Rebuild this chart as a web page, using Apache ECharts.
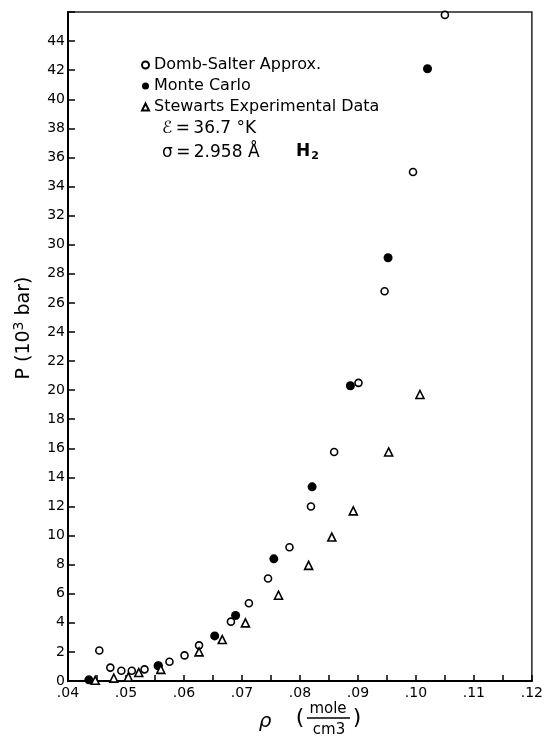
<!DOCTYPE html>
<html>
<head>
<meta charset="utf-8">
<title>H2 P vs rho</title>
<script src="https://cdn.jsdelivr.net/npm/echarts@6/dist/echarts.min.js"></script>
<style>
    html, body { margin: 0; padding: 0; background: #fff; }
    #main { width: 546px; height: 737px; }
</style>
</head>
<body>
<div id="main"></div>
<script>
// series names (legend)
var seriesNames = ['Domb-Salter Approx.', 'Monte Carlo', 'Stewarts Experimental Data'];

// [rho (mole/cm3), P (10^3 bar)]
var dombSalter = [
    [0.0454, 2.1], [0.0473, 0.92], [0.0492, 0.7], [0.0510, 0.7], [0.0532, 0.8],
    [0.0555, 1.05], [0.0575, 1.32], [0.0601, 1.76], [0.0626, 2.45], [0.0681, 4.08],
    [0.0712, 5.35], [0.0745, 7.05], [0.0782, 9.2], [0.0819, 12.0], [0.0859, 15.75],
    [0.0901, 20.5], [0.0946, 26.8], [0.0995, 35.0], [0.1050, 45.8]
];
var monteCarlo = [
    [0.0436, 0.08], [0.0556, 1.05], [0.0653, 3.1], [0.0689, 4.5], [0.0755, 8.4],
    [0.0821, 13.35], [0.0887, 20.3], [0.0952, 29.1], [0.1020, 42.1]
];
var stewart = [
    [0.0447, 0.05], [0.0479, 0.2], [0.0504, 0.28], [0.0522, 0.58], [0.0560, 0.8],
    [0.0626, 2.0], [0.0666, 2.85], [0.0706, 4.0], [0.0763, 5.9], [0.0815, 7.95],
    [0.0855, 9.9], [0.0892, 11.7], [0.0953, 15.75], [0.1007, 19.7]
];

// axis ranges / tick steps
var xRange = [0.04, 0.12];
var xStep = 0.01;
var yRange = [0, 46];
var yStep = 2;

var font = 'DejaVu Sans';

var PlotModule = (function (echarts) {
    var chart;
    var PlotClass = function () {
        this.init = function () {
            chart = echarts.init(document.getElementById('main'), null, { renderer: 'canvas' });
            chart.setOption(this.buildOption());
        }
    }
    PlotClass.prototype = {
        buildOption: function () {
            return {
                backgroundColor: '#fff',
                animation: false,
                textStyle: { fontFamily: font, color: '#000' },
                grid: {
                    left: 68, right: 9, top: 12, bottom: 56,
                    show: true, borderColor: '#222', borderWidth: 1.5
                },
                legend: {
                    orient: 'vertical',
                    left: 136,
                    top: 52,
                    itemWidth: 7,
                    itemHeight: 7,
                    itemGap: 5,
                    selectedMode: false,
                    textStyle: { fontFamily: font, fontSize: 16, color: '#000' },
                    data: seriesNames
                },
                xAxis: {
                    type: 'value',
                    min: xRange[0],
                    max: xRange[1],
                    interval: xStep,
                    axisLine: { lineStyle: { color: '#000', width: 2 } },
                    axisTick: { inside: true, length: 6, lineStyle: { color: '#000', width: 1.5 } },
                    minorTick: { show: true, splitNumber: 2, length: 6, lineStyle: { color: '#000', width: 1.5 } },
                    splitLine: { show: false },
                    axisLabel: {
                        margin: 5,
                        fontSize: 14,
                        color: '#000',
                        formatter: function (v) {
                            return v.toFixed(2).replace(/^0/, '');
                        }
                    }
                },
                yAxis: {
                    type: 'value',
                    min: yRange[0],
                    max: yRange[1],
                    interval: yStep,
                    axisLine: { lineStyle: { color: '#000', width: 2 } },
                    axisTick: { inside: true, length: 7, lineStyle: { color: '#000', width: 1.5 } },
                    splitLine: { show: false },
                    axisLabel: {
                        margin: 3,
                        fontSize: 14,
                        color: '#000',
                        formatter: function (v) {
                            return v === yRange[1] ? '' : String(v);
                        }
                    }
                },
                graphic: [
                    // parameters
                    {
                        type: 'text', left: 162, top: 120,
                        style: { text: 'ℰ\u2009=\u200936.7 °K', font: '17px "DejaVu Sans"', fill: '#000' }
                    },
                    {
                        type: 'text', left: 162, top: 144,
                        style: { text: 'σ\u2009=\u20092.958 Å', font: '17px "DejaVu Sans"', fill: '#000' }
                    },
                    {
                        type: 'text', left: 296, top: 143,
                        style: {
                            text: '{a|H}{b|2}',
                            rich: {
                                a: { fontFamily: font, fontSize: 17, fontWeight: 'bold', fill: '#000' },
                                b: { fontFamily: font, fontSize: 11, fontWeight: 'bold', fill: '#000', padding: [9, 0, 0, 1] }
                            }
                        }
                    },
                    // y axis title
                    {
                        type: 'text', x: 24, y: 328, rotation: Math.PI / 2,
                        style: {
                            text: '{a|P (10}{s|3}{a| bar)}',
                            align: 'center', verticalAlign: 'middle',
                            rich: {
                                a: { fontFamily: font, fontSize: 19, fill: '#000' },
                                s: { fontFamily: font, fontSize: 14, fill: '#000', padding: [0, 0, 10, 0] }
                            }
                        }
                    },
                    // x axis title: rho (mole / cm3)
                    {
                        type: 'text', x: 265, y: 722,
                        style: { text: 'ρ', font: 'italic 20px "DejaVu Sans"', fill: '#000', align: 'center', verticalAlign: 'middle' }
                    },
                    {
                        type: 'text', x: 300, y: 718,
                        style: { text: '(', font: '22px "DejaVu Sans"', fill: '#000', align: 'center', verticalAlign: 'middle' }
                    },
                    {
                        type: 'text', x: 328, y: 709,
                        style: { text: 'mole', font: '15px "DejaVu Sans"', fill: '#000', align: 'center', verticalAlign: 'middle' }
                    },
                    {
                        type: 'line',
                        shape: { x1: 307, y1: 718, x2: 350, y2: 718 },
                        style: { stroke: '#000', lineWidth: 1.5 }
                    },
                    {
                        type: 'text', x: 329, y: 730,
                        style: { text: 'cm3', font: '15px "DejaVu Sans"', fill: '#000', align: 'center', verticalAlign: 'middle' }
                    },
                    {
                        type: 'text', x: 357, y: 718,
                        style: { text: ')', font: '22px "DejaVu Sans"', fill: '#000', align: 'center', verticalAlign: 'middle' }
                    }
                ],
                series: [{
                    name: seriesNames[0],
                    type: 'scatter',
                    symbol: 'circle',
                    symbolSize: 7,
                    itemStyle: { color: '#fff', borderColor: '#000', borderWidth: 1.6, opacity: 1 },
                    data: dombSalter
                }, {
                    name: seriesNames[1],
                    type: 'scatter',
                    symbol: 'circle',
                    symbolSize: 9,
                    itemStyle: { color: '#000', borderColor: '#000', borderWidth: 0, opacity: 1 },
                    data: monteCarlo
                }, {
                    name: seriesNames[2],
                    type: 'scatter',
                    symbol: 'triangle',
                    symbolSize: 8,
                    itemStyle: { color: '#fff', borderColor: '#000', borderWidth: 1.6, opacity: 1 },
                    data: stewart
                }]
            };
        },
        constructor: PlotClass
    };
    return new PlotClass();
})(echarts);
PlotModule.init();
</script>
</body>
</html>
